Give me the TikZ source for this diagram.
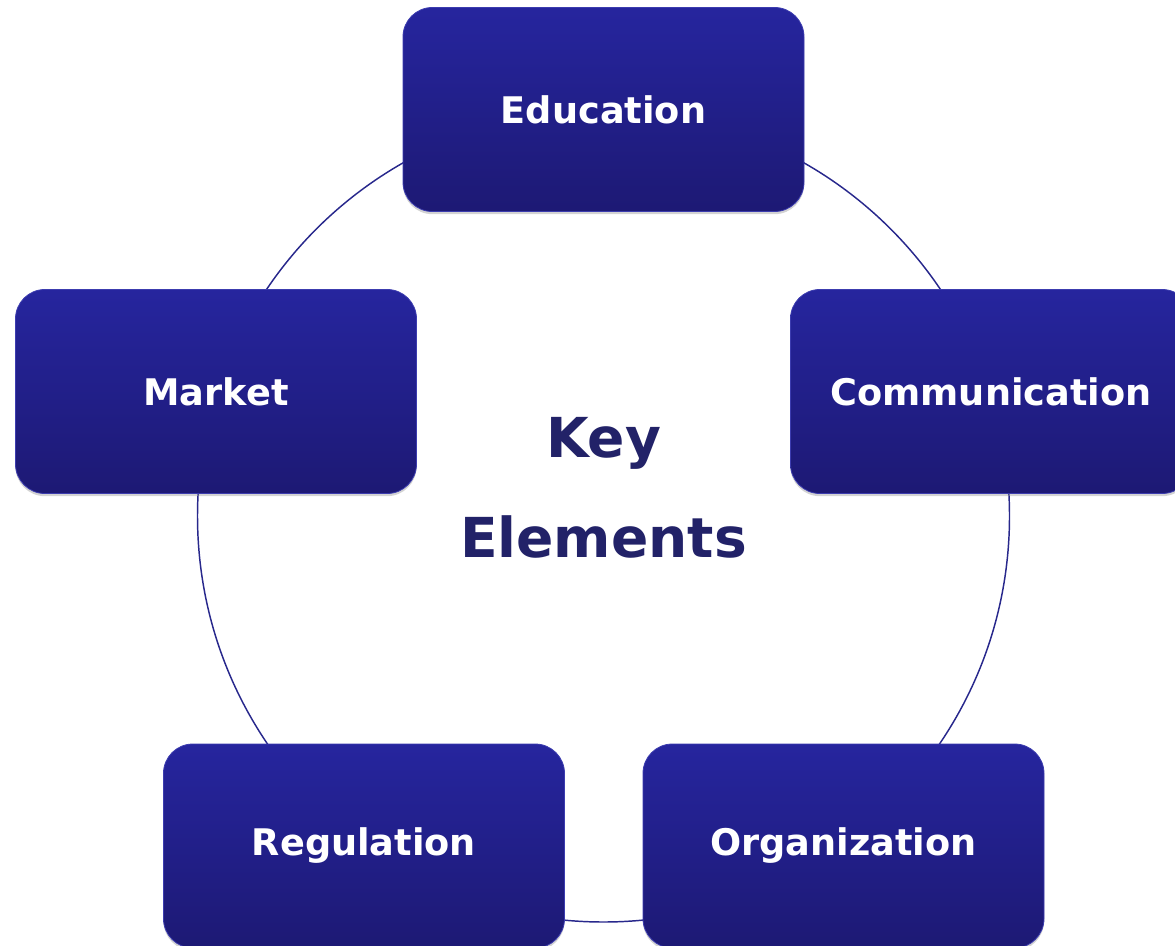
\documentclass[tikz,border=0pt]{standalone}
\usepackage{fontspec}
\setmainfont{DejaVu Sans}
\usetikzlibrary{shadows}
\definecolor{boxtop}{RGB}{38,37,158}
\definecolor{boxbot}{RGB}{29,25,116}
\definecolor{boxedge}{RGB}{60,60,175}
\definecolor{ringcol}{RGB}{40,40,140}
\definecolor{keycol}{RGB}{34,34,104}
\tikzset{
  elembox/.style={rectangle, rounded corners=22pt, minimum width=300.75pt, minimum height=153pt,
    inner sep=0pt, top color=boxtop, bottom color=boxbot, draw=boxedge, line width=0.6pt,
    drop shadow={opacity=0.35, shadow xshift=0pt, shadow yshift=-2pt},
    text=white, font=\bfseries\fontsize{27.5}{32}\selectfont},
  ring/.style={draw=ringcol, line width=1.1pt},
  keytext/.style={text=keycol, font=\bfseries\fontsize{41.3}{75}\selectfont, align=center}
}
\begin{document}
\begin{tikzpicture}[x=0.75pt,y=-0.75pt]
\useasboundingbox (0,0) rectangle (1175,946);
\coordinate (c) at (603.5,516);
\draw[ring] (c) circle[radius=304.5pt];
\node[elembox] (edu) at (603.5,109.5) {Education};
\node[elembox] (com) at (991,391.5) {Communication};
\node[elembox] (mkt) at (216,391.5) {Market};
\node[elembox] (reg) at (364,846) {Regulation};
\node[elembox] (org) at (843.5,846) {Organization};
\node[keytext] (key) at (603.5,488) {Key\\Elements};
\end{tikzpicture}
\end{document}
